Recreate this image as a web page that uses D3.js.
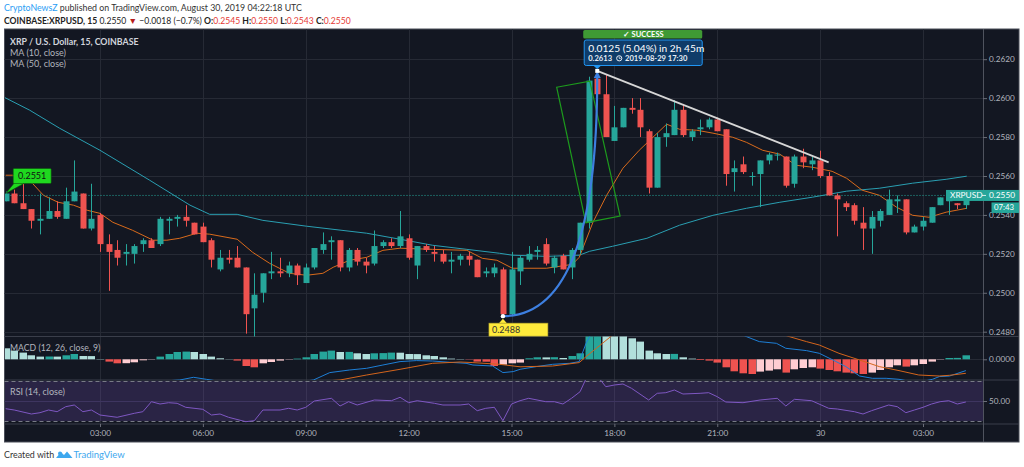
<!DOCTYPE html>
<html><head><meta charset="utf-8">
<script src="https://cdn.jsdelivr.net/npm/d3@7"></script>
<style>
html,body{margin:0;padding:0;background:#fff;}
svg{display:block;}
text{font-family:Lato,"Liberation Sans",sans-serif;}
</style></head><body>
<svg id="c" width="1024" height="467"></svg>
<script>
// ---------------- DATA ----------------
const startTime = "2019-08-29T00:15";
const intervalMinutes = 15;
const open  = [.2547,.2551,.2546,.2543,.2537,.2538,.2542,.2538,.2547,.2551,.2533,.2540,.2525,.2522,.2520,.2520,.2525,.2527,.2525,.2537,.2538,.2539,.2536,.2534,.2527,.2512,.2518,.2518,.2513,.2492,.2500,.2510,.2511,.2510,.2514,.2505,.2513,.2522,.2526,.2527,.2513,.2522,.2516,.2515,.2524,.2526,.2524,.2528,.2514,.2524,.2521,.2520,.2516,.2517,.2519,.2517,.2510,.2510,.2512,.2489,.2511,.2517,.2521,.2525,.2513,.2519,.2513,.2522,.2536,.2610,.2602,.2578,.2585,.2595,.2594,.2583,.2554,.2580,.2581,.2594,.2580,.2584,.2585,.2589,.2584,.2562,.2566,.2560,.2561,.2568,.2571,.2570,.2556,.2570,.2566,.2568,.2560,.2550,.2546,.2545,.2536,.2533,.2537,.2540,.2547,.2548,.2531,.2534,.2536,.2545,.2547,.2546,.2545];
const high  = [.2552,.2553,.2556,.2543,.2551,.2549,.2547,.2554,.2568,.2551,.2556,.2541,.2530,.2527,.2525,.2525,.2528,.2528,.2539,.2539,.2540,.2545,.2536,.2536,.2528,.2522,.2522,.2524,.2513,.2510,.2510,.2521,.2518,.2516,.2515,.2515,.2523,.2531,.2529,.2527,.2523,.2523,.2518,.2532,.2527,.2528,.2542,.2530,.2524,.2525,.2524,.2522,.2521,.2520,.2521,.2517,.2513,.2515,.2513,.2521,.2519,.2524,.2524,.2528,.2519,.2520,.2523,.2536,.2611,.2613,.2612,.2596,.2595,.2600,.2600,.2584,.2582,.2587,.2599,.2597,.2584,.2589,.2590,.2590,.2584,.2568,.2570,.2562,.2568,.2572,.2572,.2570,.2571,.2574,.2570,.2573,.2562,.2551,.2547,.2546,.2544,.2542,.2543,.2553,.2550,.2548,.2535,.2539,.2544,.2549,.2549,.2546,.2550];
const low   = [.2547,.2546,.2543,.2533,.2530,.2538,.2538,.2538,.2547,.2533,.2532,.2521,.2501,.2514,.2514,.2515,.2521,.2523,.2524,.2530,.2534,.2534,.2530,.2526,.2513,.2511,.2515,.2513,.2479,.2477,.2495,.2507,.2508,.2508,.2504,.2505,.2512,.2520,.2517,.2511,.2511,.2514,.2510,.2514,.2523,.2523,.2523,.2517,.2507,.2521,.2516,.2515,.2510,.2514,.2514,.2508,.2508,.2508,.2488,.2488,.2504,.2516,.2517,.2514,.2510,.2512,.2507,.2520,.2533,.2597,.2580,.2578,.2585,.2592,.2580,.2551,.2554,.2575,.2581,.2580,.2578,.2581,.2584,.2583,.2555,.2552,.2561,.2555,.2544,.2566,.2568,.2554,.2554,.2564,.2563,.2559,.2550,.2529,.2542,.2535,.2522,.2520,.2534,.2540,.2541,.2530,.2531,.2532,.2536,.2545,.2540,.2543,.2543];
const close = [.2551,.2546,.2543,.2537,.2538,.2542,.2539,.2547,.2552,.2533,.2538,.2525,.2521,.2518,.2521,.2524,.2527,.2523,.2538,.2538,.2539,.2537,.2530,.2526,.2517,.2518,.2517,.2513,.2489,.2499,.2510,.2511,.2510,.2514,.2509,.2513,.2523,.2525,.2527,.2513,.2522,.2516,.2514,.2524,.2526,.2524,.2529,.2518,.2524,.2522,.2520,.2516,.2517,.2519,.2517,.2508,.2511,.2513,.2489,.2512,.2518,.2520,.2522,.2515,.2518,.2512,.2522,.2536,.2609,.2602,.2580,.2585,.2595,.2594,.2585,.2554,.2580,.2582,.2594,.2581,.2583,.2585,.2589,.2583,.2561,.2564,.2562,.2560,.2568,.2571,.2571,.2555,.2570,.2567,.2568,.2560,.2550,.2548,.2544,.2537,.2533,.2539,.2542,.2548,.2548,.2531,.2534,.2537,.2544,.2549,.2549,.2545,.2550];

// moving averages (candle index, value)
const ma10At = [0,0.8,3.1,4.4,6.1,7.9,9.5,11,12.5,14.8,17.2,18.8,20.3,22.3,23.8,27,28.8,30.8,33.1,35.1,37,38.2,40.1,42.1,44,46,49.8,53.8,55.6,57.3,59.1,63.1,66.1,66.9,68.5,70.1,72,73.9,75.5,77.1,78.6,80.6,82.5,84.8,86.4,88.3,90.3,92.2,94.1,96.4,98.1,99.9,101.9,103.9,105.8,107.7,109.7,112.1];
const ma10   = [.25604,.25604,.25563,.25501,.25465,.2545,.25424,.25408,.25362,.25321,.2527,.2527,.2528,.25306,.25301,.25275,.25208,.25151,.251,.2509,.251,.25131,.25167,.25182,.25218,.25229,.25223,.25218,.25177,.25167,.25126,.25126,.25146,.25182,.25362,.25501,.2564,.25732,.25799,.25866,.2584,.25835,.2582,.25799,.25773,.25732,.25712,.25655,.25645,.25624,.25588,.25527,.25501,.2544,.25398,.25388,.25414,.25434];
const ma50At = [-0.2,2.8,6.3,11,16.8,21.5,23.8,27,30,35.1,42.1,46,49.8,53.8,57.6,59.1,63.1,66.9,68.1,70.8,74.8,78.6,82.5,86.4,90.3,94.1,98.1,101.9,105.8,109.7,112.1];
const ma50   = [.26005,.25938,.25845,.25732,.25578,.2545,.25403,.25403,.25372,.25342,.25306,.25275,.25244,.25223,.25203,.25193,.25187,.25193,.25213,.25239,.2528,.25347,.25398,.25434,.25465,.25491,.25522,.25537,.25563,.25583,.25599];

// MACD (12, 26, close, 9)
const macdHist = [11e-5,8.7e-5,6.7e-5,4e-5,2.7e-5,2.8e-5,2.7e-5,4e-5,5.3e-5,3.3e-5,3.2e-5,0.3e-5,-2.3e-5,-4e-5,-3.9e-5,-3e-5,-1e-5,-0.3e-5,2.7e-5,5.3e-5,7.3e-5,7.7e-5,7.3e-5,5.3e-5,2.7e-5,1e-5,0.2e-5,-1.3e-5,-6.7e-5,-8e-5,-4e-5,-2.7e-5,-1.3e-5,-0.3e-5,0.7e-5,2e-5,5.3e-5,7.7e-5,8.7e-5,7.3e-5,7.4e-5,6e-5,5.3e-5,6e-5,6.2e-5,6.7e-5,6.6e-5,5.3e-5,5.2e-5,4e-5,3.3e-5,2e-5,0.7e-5,0.3e-5,-0.3e-5,-2.3e-5,-2.4e-5,-6.7e-5,-5.3e-5,-4e-5,-3.3e-5,1e-5,2e-5,1.9e-5,2.1e-5,1.3e-5,3.3e-5,6e-5,30e-5,40e-5,38e-5,34e-5,28e-5,21e-5,17.7e-5,8.7e-5,6e-5,5.3e-5,5.4e-5,2e-5,0.7e-5,-0.7e-5,-1.3e-5,-3.3e-5,-8e-5,-12e-5,-14e-5,-14.7e-5,-12.3e-5,-11.3e-5,-10e-5,-13.3e-5,-10e-5,-8.7e-5,-8e-5,-9.3e-5,-10.7e-5,-12e-5,-13.3e-5,-14e-5,-14.7e-5,-13.3e-5,-10.7e-5,-8e-5,-6e-5,-7.3e-5,-6e-5,-4.7e-5,-2.3e-5,-0.3e-5,1.3e-5,1.4e-5,4e-5];
const macdAt = [0,12,20.3,21.9,23.4,28,33,35.9,37.8,40.1,42.1,44,46,47.9,49.8,51.8,53.7,54.5,56.8,58,59.2,60,61.9,63.8,65.8,66.9,67.7,68.5,70,73,77,82,86.4,87.9,89.9,91,93.4,94.9,96.5,98,99.6,101.1,102.7,104.2,105,106.5,108.1,108.9,110.1,112];
const macdLine = [-26e-5,-25e-5,-20.7e-5,-18e-5,-20e-5,-26e-5,-24e-5,-20.7e-5,-13.3e-5,-10.7e-5,-9e-5,-5.7e-5,-2.3e-5,-1.3e-5,-1.7e-5,-3e-5,-4e-5,-5.7e-5,-6.7e-5,-13.3e-5,-12.3e-5,-10e-5,-7.3e-5,-5e-5,-4e-5,-2.3e-5,16e-5,29e-5,48e-5,60e-5,55e-5,40e-5,22.7e-5,17.7e-5,16e-5,11e-5,8.7e-5,6e-5,-0.7e-5,-7.3e-5,-16.7e-5,-19e-5,-19e-5,-20e-5,-21.3e-5,-23e-5,-20e-5,-17.3e-5,-16.7e-5,-11.3e-5];
const signalAt = [0,20,33,39,42.1,46,49.8,53,54.5,57.6,60,63.8,66.9,67.7,70.8,75,80,86,91.4,93.4,94.9,97.2,99.6,101.9,104.2,106.5,108.9,110.1,112];
const signalLine = [-30e-5,-27e-5,-24e-5,-20.7e-5,-15.7e-5,-10e-5,-4e-5,-2.7e-5,-3.3e-5,-5e-5,-7.5e-5,-6.7e-5,-3.3e-5,2.7e-5,24.3e-5,40e-5,45e-5,38e-5,22.7e-5,17.7e-5,14.3e-5,6e-5,-0.7e-5,-7.3e-5,-11.3e-5,-15.7e-5,-16.7e-5,-16e-5,-14e-5];

// RSI (14, close)
const rsiAt = [0,1,3,4,5,6,7,8,9,10,11,13,15,16,17,18,19,20,21,23,24,25,26,28,29,30,32,33,34,35,36,38,39,40,41,43,45,46,47,48,50,51,53,54,55,56,57,58,59,60,61,63,64,65,66,67,68,69,70,71,72,73,75,76,77,78,79,81,82,83,84,86,88,90,91,92,94,96,97,99,100,101,103,104,105,106,107,108,109,110,111,112];
const rsi   = [42.3,41,37,38.3,41,39.3,44.3,46,39.3,41,36,33.7,37.7,39.3,49.3,47,48.3,47.7,43.7,41.7,36,37,33.7,29.3,30.3,41,41,42.7,41,43.7,50,52.7,45,49.3,46,51,50.3,53.7,48.3,50.3,47.7,46,46,47,40.3,42.7,43.7,30.3,47,50.3,52.7,49.3,49.3,47,52.7,59.3,78,75,64.3,66,67,62.7,51,57.7,58.3,61,57,57.7,58.3,54.3,49,48.3,51,52.7,45,51.7,50.3,42.7,42,39.3,37,40.3,46,44.3,38.3,41,43.7,47,49.3,50.3,47,49];

// axes
const priceTicks = [0.2480,0.2500,0.2520,0.2540,0.2560,0.2580,0.2600,0.2620];
const tickTimes  = ["2019-08-29T03:00","2019-08-29T06:00","2019-08-29T09:00","2019-08-29T12:00","2019-08-29T15:00","2019-08-29T18:00","2019-08-29T21:00","2019-08-30T00:00","2019-08-30T03:00"];
const tickLabels = ["03:00","06:00","09:00","12:00","15:00","18:00","21:00","30","03:00"];

// annotations (time, price)
const lastPrice = 0.2550;
const markHigh = {time:"2019-08-29T00:15", price:0.2551, label:"0.2551"};
const markLow  = {time:"2019-08-29T14:45", price:0.2488, label:"0.2488"};
const forecastTarget = {time:"2019-08-29T17:30", price:0.2614};
const forecastControl = {time:"2019-08-29T17:30", price:0.2488};
const trendLine = [{time:"2019-08-29T17:30", price:0.2614},{time:"2019-08-30T00:15", price:0.2567}];
const rotatedBox = [{time:"2019-08-29T16:19",price:0.26056},{time:"2019-08-29T17:17",price:0.26087},{time:"2019-08-29T18:10",price:0.25394},{time:"2019-08-29T17:10",price:0.2536}];

// ---------------- DRAWING ----------------
const parse = d3.timeParse("%Y-%m-%dT%H:%M");
const t0 = parse(startTime);
const timeAt = i => new Date(+t0 + i*intervalMinutes*60000);
const svg = d3.select("#c");

const L = 4.5, R = 983, RR = 1019, TOP = 29, PB = 336.5, MB = 380, RB = 424, AB = 442;
const bg = "#131722", grid = "#262a35", sep = "#3a3e4a", axisText = "#b2b5be";
const up = "#26a69a", down = "#ef5350";

const x = d3.scaleTime().domain([parse(tickTimes[0]), parse(tickTimes[8])]).range([100, 923]);
const yP = d3.scaleLinear().domain([0.2480, 0.2620]).range([331.7, 59.2]);
const yM = d3.scaleLinear().domain([0, 1e-4]).range([359.3, 349.3]);
const yR = d3.scaleLinear().domain([30, 70]).range([421, 381]);

// page header
const h1 = svg.append("text").attr("x",4).attr("y",11).attr("font-size",8.8);
h1.append("tspan").attr("fill","#2a9df4").text("CryptoNewsZ");
h1.append("tspan").attr("fill","#333").text(" published on TradingView.com, August 30, 2019 04:22:18 UTC");
const h2 = svg.append("text").attr("x",4).attr("y",23.5).attr("font-size",8.6).attr("fill","#222");
h2.append("tspan").attr("font-weight","bold").text("COINBASE:XRPUSD, 15");
h2.append("tspan").text(" 0.2550 ");
h2.append("tspan").attr("fill","#b71c1c").text("▼");
h2.append("tspan").text(" −0.0018 (−0.7%) ");
[["O:","0.2545"],["H:","0.2550"],["L:","0.2543"],["C:","0.2550"]].forEach(([k,v],i)=>{
  h2.append("tspan").attr("font-weight","bold").text((i? " ":"")+k);
  h2.append("tspan").attr("fill","#e53935").text(v);
});

// chart background
svg.append("rect").attr("x",L).attr("y",TOP).attr("width",RR-L).attr("height",AB-TOP).attr("fill",bg).attr("stroke","#4a4e59").attr("stroke-width",1);

const defs = svg.append("defs");
const clip = (id,y0,y1,x1=R)=>defs.append("clipPath").attr("id",id).append("rect").attr("x",L+0.5).attr("y",y0).attr("width",x1-L-0.5).attr("height",y1-y0);
clip("cp",TOP,PB); clip("cm",PB,MB); clip("cr",MB,RB);

// grid
const gGrid = svg.append("g");
tickTimes.forEach(t=>{
  const xx = Math.round(x(parse(t)))+0.5;
  gGrid.append("line").attr("x1",xx).attr("x2",xx).attr("y1",TOP).attr("y2",RB).attr("stroke",grid);
});
priceTicks.forEach(p=>{
  const yy = Math.round(yP(p))+0.5;
  gGrid.append("line").attr("x1",L).attr("x2",R).attr("y1",yy).attr("y2",yy).attr("stroke",grid);
});
gGrid.append("line").attr("x1",L).attr("x2",R).attr("y1",Math.round(yM(0))+0.5).attr("y2",Math.round(yM(0))+0.5).attr("stroke",grid);

// RSI band
svg.append("rect").attr("x",L+0.5).attr("width",R-L-0.5).attr("y",yR(70)).attr("height",yR(30)-yR(70)).attr("fill","rgba(126,87,194,0.22)");
svg.append("line").attr("x1",L).attr("x2",R).attr("y1",yR(50)+0.5).attr("y2",yR(50)+0.5).attr("stroke","#3e3560");
[70,30].forEach(v=>svg.append("line").attr("x1",L).attr("x2",R).attr("y1",yR(v)+0.5).attr("y2",yR(v)+0.5).attr("stroke","#787b86").attr("stroke-dasharray","4,3"));

// pane separators
[PB, MB, RB].forEach(yy=>svg.append("line").attr("x1",L).attr("x2",RR).attr("y1",yy).attr("y2",yy).attr("stroke",sep));
svg.append("line").attr("x1",R+0.5).attr("x2",R+0.5).attr("y1",TOP).attr("y2",AB).attr("stroke","#4f535e");

// ---- price pane
const gp = svg.append("g").attr("clip-path","url(#cp)");
const line = (xs, ys, yScale) => d3.line().x((d,i)=>x(timeAt(xs[i]))).y(d=>yScale(d))(ys);
gp.append("path").attr("d",line(ma50At,ma50,yP)).attr("fill","none").attr("stroke","#2a9fb2").attr("stroke-width",1);
gp.append("path").attr("d",line(ma10At,ma10,yP)).attr("fill","none").attr("stroke","#d96b1c").attr("stroke-width",1);

// last price dotted line
gp.append("line").attr("x1",L).attr("x2",946).attr("y1",yP(lastPrice)).attr("y2",yP(lastPrice)).attr("stroke",up).attr("stroke-dasharray","1,2");

const candles = d3.range(close.length);
const cg = gp.selectAll("g.c").data(candles).join("g");
cg.append("line").attr("x1",i=>Math.round(x(timeAt(i)))+0.5).attr("x2",i=>Math.round(x(timeAt(i)))+0.5)
  .attr("y1",i=>yP(high[i])).attr("y2",i=>yP(low[i])).attr("stroke",i=>close[i]>=open[i]?up:down);
cg.append("rect").attr("x",i=>Math.round(x(timeAt(i)))-2.5).attr("width",6)
  .attr("y",i=>yP(Math.max(open[i],close[i]))).attr("height",i=>Math.max(1,Math.abs(yP(open[i])-yP(close[i]))))
  .attr("fill",i=>close[i]>=open[i]?up:down);

// drawings
const P = d=>[x(parse(d.time)), yP(d.price)];
gp.append("path").attr("d","M"+rotatedBox.map(P).map(p=>p.join(",")).join("L")+"Z").attr("fill","none").attr("stroke","#1d9a1d").attr("stroke-width",1.2);
const [tx1,ty1] = P(trendLine[0]), [tx2,ty2] = P(trendLine[1]);
gp.append("line").attr("x1",tx1).attr("y1",ty1).attr("x2",tx2).attr("y2",ty2).attr("stroke","#d6d6d6").attr("stroke-width",1.8);
const [sx,sy] = P(markLow), [ex,ey] = P(forecastTarget), [qx,qy] = P(forecastControl);
gp.append("path").attr("d",`M${sx},${sy}Q${qx},${qy} ${ex},${ey+6}`).attr("fill","none").attr("stroke","#3d7fe0").attr("stroke-width",2.2);
gp.append("path").attr("d",`M${ex-3.5},${ey+7}L${ex},${ey}L${ex+3.5},${ey+7}Z`).attr("fill","#3d7fe0");
gp.append("rect").attr("x",ex-2).attr("y",ey-2).attr("width",4).attr("height",4).attr("fill","#fff");
gp.append("circle").attr("cx",sx).attr("cy",sy).attr("r",2.2).attr("fill","#fff");

// low label
const lg = svg.append("g");
lg.append("path").attr("d",`M${sx-4},${sy+7}L${sx},${sy+2.5}L${sx+4},${sy+7}Z`).attr("fill","#ffeb3b");
lg.append("rect").attr("x",sx-14).attr("y",sy+7).attr("width",59).attr("height",13).attr("fill","#ffeb3b").attr("stroke","#a89a2a").attr("stroke-width",0.6);
lg.append("text").attr("x",sx-11).attr("y",sy+17).attr("font-size",9).attr("fill","#333").text(markLow.label);

// high label
const [hx,hy] = P(markHigh);
const hg = svg.append("g");
hg.append("path").attr("d",`M${hx},${hy}L${hx+9},${hy-11}L${hx+20},${hy-11}Z`).attr("fill","#1fd81f").attr("stroke","#0d4d0d").attr("stroke-width",0.6);
hg.append("rect").attr("x",hx+7.5).attr("y",hy-25).attr("width",38).attr("height",15).attr("rx",1).attr("fill","#1fd81f").attr("stroke","#0d4d0d").attr("stroke-width",0.6);
hg.append("text").attr("x",hx+26.5).attr("y",hy-14.3).attr("text-anchor","middle").attr("font-size",9).attr("fill","#111").text(markHigh.label);

// forecast label
const fg = svg.append("g");
fg.append("rect").attr("x",ex-14).attr("y",30).attr("width",119).attr("height",8.5).attr("rx",1.5).attr("fill","#3f9a34");
fg.append("text").attr("x",ex+46).attr("y",37).attr("text-anchor","middle").attr("font-size",7.5).attr("font-weight","bold").attr("fill","#fff").text("✓ SUCCESS");
fg.append("rect").attr("x",ex-13).attr("y",40).attr("width",118).attr("height",25.5).attr("rx",2).attr("fill","#0f3c69").attr("stroke","#2196f3").attr("stroke-width",1);
fg.append("path").attr("d",`M${ex-4},65.5L${ex},69L${ex+4},65.5Z`).attr("fill","#2196f3");
fg.append("text").attr("x",ex-9).attr("y",51.5).attr("font-size",10.2).attr("fill","#fff").text("0.0125 (5.04%) in 2h 45m");
const f2 = fg.append("text").attr("x",ex-9).attr("y",61).attr("font-size",7.6).attr("font-weight","bold").attr("fill","#e8eef5");
f2.append("tspan").text("0.2613");
f2.append("tspan").attr("dx",13).text("2019-08-29   17:30");
fg.append("circle").attr("cx",ex+22).attr("cy",58.3).attr("r",2.6).attr("fill","none").attr("stroke","#e8eef5").attr("stroke-width",1);
fg.append("path").attr("d",`M${ex+22},56.6V58.4H${ex+23.5}`).attr("fill","none").attr("stroke","#e8eef5").attr("stroke-width",0.8);

// ---- MACD pane
const gm = svg.append("g").attr("clip-path","url(#cm)");
gm.selectAll("rect").data(macdHist).join("rect")
  .attr("x",(d,i)=>Math.round(x(timeAt(i)))-3.5).attr("width",7.5)
  .attr("y",d=>Math.min(yM(d),yM(0))).attr("height",d=>Math.abs(yM(d)-yM(0)))
  .attr("fill",(d,i)=>{const p = i? macdHist[i-1] : d; return d>=0 ? (d>p?"#26a69a":"#b2dfdb") : (d<p?"#ef5350":"#ffcdd2");});
gm.append("path").attr("d",line(macdAt,macdLine,yM)).attr("fill","none").attr("stroke","#1e7fd6").attr("stroke-width",1);
gm.append("path").attr("d",line(signalAt,signalLine,yM)).attr("fill","none").attr("stroke","#d4651c").attr("stroke-width",1);

// ---- RSI pane
const gr = svg.append("g").attr("clip-path","url(#cr)");
gr.append("path").attr("d",line(rsiAt,rsi,yR)).attr("fill","none").attr("stroke","#7e57c2").attr("stroke-width",1);

// ---- axes
const styleAxis = g=>{g.select(".domain").remove(); g.selectAll("line").attr("stroke","#6a6d78"); g.selectAll("text").attr("fill",axisText).attr("font-size",8.2).attr("font-family","Lato,'Liberation Sans',sans-serif");};
svg.append("g").attr("transform",`translate(${R},0)`).call(d3.axisRight(yP).tickValues(priceTicks).tickFormat(d3.format(".4f")).tickSize(4).tickPadding(2)).call(styleAxis);
svg.append("g").attr("transform",`translate(${R},0)`).call(d3.axisRight(yM).tickValues([0]).tickFormat(d3.format(".4f")).tickSize(4).tickPadding(2)).call(styleAxis);
svg.append("g").attr("transform",`translate(${R},0)`).call(d3.axisRight(yR).tickValues([50]).tickFormat(d3.format(".2f")).tickSize(4).tickPadding(2)).call(styleAxis);
svg.append("g").attr("transform",`translate(0,${RB})`).call(d3.axisBottom(x).tickValues(tickTimes.map(parse)).tickFormat((d,i)=>tickLabels[i]).tickSize(3).tickPadding(3)).call(styleAxis);

// last price labels
const yl = yP(lastPrice);
svg.append("rect").attr("x",946).attr("y",yl-5.5).attr("width",RR-946).attr("height",11).attr("fill",up);
svg.append("text").attr("x",950).attr("y",yl+3).attr("font-size",8.3).attr("fill","#fff").text("XRPUSD");
svg.append("line").attr("x1",R-1).attr("x2",R+3).attr("y1",yl).attr("y2",yl).attr("stroke","#fff").attr("stroke-width",0.8);
svg.append("text").attr("x",989).attr("y",yl+3).attr("font-size",8.3).attr("fill","#fff").text(d3.format(".4f")(lastPrice));
svg.append("rect").attr("x",991.5).attr("y",yl+7).attr("width",RR-991.5).attr("height",10.5).attr("fill",up);
svg.append("text").attr("x",994).attr("y",yl+14.6).attr("font-size",7.8).attr("fill","#fff").text("07:43");

// legends
svg.append("text").attr("x",10).attr("y",44.5).attr("font-size",8.8).attr("font-weight","bold").attr("fill","#d1d4dc").text("XRP / U.S. Dollar, 15, COINBASE");
svg.append("text").attr("x",10).attr("y",56).attr("font-size",9).attr("fill","#b2b5be").text("MA (10, close)");
svg.append("text").attr("x",10).attr("y",67).attr("font-size",9).attr("fill","#b2b5be").text("MA (50, close)");
svg.append("text").attr("x",10).attr("y",351).attr("font-size",8.7).attr("fill","#b2b5be").text("MACD (12, 26, close, 9)");
svg.append("text").attr("x",10).attr("y",395).attr("font-size",9).attr("fill","#b2b5be").text("RSI (14, close)");

// footer
svg.append("text").attr("x",4).attr("y",458).attr("font-size",8.9).attr("fill","#333").text("Created with");
svg.append("path").attr("d","M56,458 L61,452 L64,455 L67,451.5 L72.5,458 Z").attr("fill","#3ea8ee");
svg.append("circle").attr("cx",60).attr("cy",453.5).attr("r",2).attr("fill","#3ea8ee");
svg.append("text").attr("x",73.5).attr("y",458).attr("font-size",9.5).attr("fill","#3ea8ee").text("TradingView");
</script>
</body></html>
